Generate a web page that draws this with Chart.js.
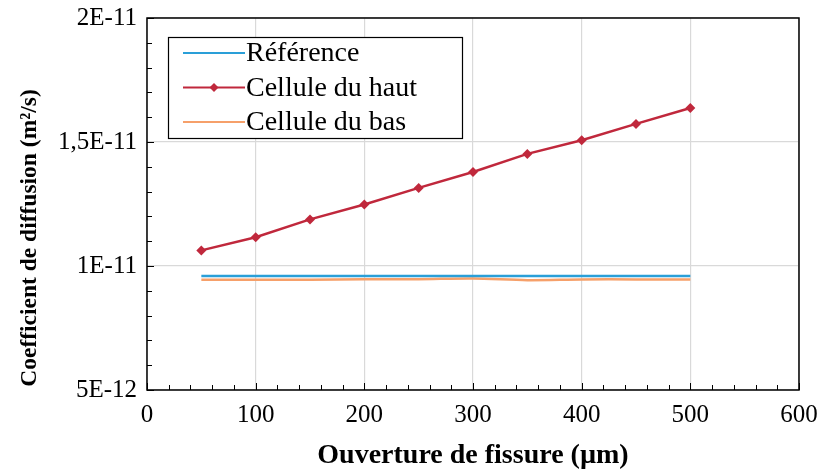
<!DOCTYPE html>
<html>
<head>
<meta charset="utf-8">
<script src="https://cdn.jsdelivr.net/npm/chart.js@4/dist/chart.umd.min.js"></script>
<style>
  html, body { margin: 0; padding: 0; background: #fff; }
  #wrap { width: 818px; height: 470px; }
</style>
</head>
<body>
<div id="wrap"><canvas id="diffChart" width="818" height="470"></canvas></div>
<script>
// ouverture de fissure (µm)
const ouvertures = [50, 100, 150, 200, 250, 300, 350, 400, 450, 500];
const reference = [9.6e-12, 9.6e-12, 9.6e-12, 9.6e-12, 9.6e-12, 9.6e-12, 9.6e-12, 9.6e-12, 9.6e-12, 9.6e-12];
const celluleHaut = [1.063e-11, 1.116e-11, 1.188e-11, 1.248e-11, 1.315e-11, 1.379e-11, 1.452e-11, 1.507e-11, 1.573e-11, 1.637e-11];
const celluleBas = [9.45e-12, 9.45e-12, 9.45e-12, 9.47e-12, 9.47e-12, 9.50e-12, 9.43e-12, 9.46e-12, 9.46e-12, 9.46e-12];

const xTicks = [0, 100, 200, 300, 400, 500, 600];
const yTicks = [5e-12, 1e-11, 1.5e-11, 2e-11];
const yTitle = 'Coefficient de diffusion (m²/s)';

const serif = '"Liberation Serif", "Times New Roman", serif';

function toPoints(vals) {
    return ouvertures.map((x, i) => ({ x: x, y: vals[i] }));
}

// format "1,5E-11" comme Excel
function sciLabel(v) {
    const exp = Math.floor(Math.log10(v) + 1e-9);
    let m = Math.round(v / Math.pow(10, exp) * 100) / 100;
    return String(m).replace('.', ',') + 'E' + exp;
}

// petites graduations + cadre + légende + titre vertical
const decorPlugin = {
    id: 'decor',
    afterDraw(chart) {
        const { ctx, chartArea: a, scales } = chart;
        const xs = scales.x, ys = scales.y;
        ctx.save();
        ctx.strokeStyle = '#000';
        ctx.lineWidth = 1;
        ctx.beginPath();
        for (let v = 0; v <= 600; v += 20) {
            const px = Math.round(xs.getPixelForValue(v)) + 0.5;
            const len = v % 100 === 0 ? 7 : 5;
            ctx.moveTo(px, a.bottom);
            ctx.lineTo(px, a.bottom - len);
        }
        for (let k = 5; k <= 20; k++) {
            const py = Math.round(ys.getPixelForValue(k * 1e-12)) + 0.5;
            const len = k % 5 === 0 ? 7 : 5;
            ctx.moveTo(a.left, py);
            ctx.lineTo(a.left + len, py);
        }
        ctx.stroke();

        // cadre
        ctx.lineWidth = 1.5;
        ctx.strokeRect(a.left, a.top, a.right - a.left, a.bottom - a.top);

        // titre de l'axe y
        ctx.save();
        ctx.translate(30, 238);
        ctx.rotate(-Math.PI / 2);
        ctx.font = 'bold 23.5px ' + serif;
        ctx.fillStyle = '#000';
        ctx.textAlign = 'center';
        ctx.textBaseline = 'middle';
        ctx.fillText(yTitle, 0, 0);
        ctx.restore();

        // légende
        const box = { x: 168, y: 37, w: 294, h: 101 };
        ctx.fillStyle = '#fff';
        ctx.fillRect(box.x, box.y, box.w, box.h);
        ctx.lineWidth = 1.2;
        ctx.strokeRect(box.x + 0.5, box.y + 0.5, box.w, box.h);
        ctx.font = '28px ' + serif;
        ctx.textBaseline = 'middle';
        ctx.textAlign = 'left';
        chart.data.datasets.forEach((ds, i) => {
            const cy = 53 + i * 34.5;
            ctx.strokeStyle = ds.borderColor;
            ctx.lineWidth = 2;
            ctx.beginPath();
            ctx.moveTo(183, cy);
            ctx.lineTo(245, cy);
            ctx.stroke();
            if (ds.pointRadius > 0) {
                ctx.fillStyle = ds.borderColor;
                ctx.beginPath();
                ctx.moveTo(214, cy - 4.5);
                ctx.lineTo(218.5, cy);
                ctx.lineTo(214, cy + 4.5);
                ctx.lineTo(209.5, cy);
                ctx.closePath();
                ctx.fill();
            }
            ctx.fillStyle = '#000';
            ctx.fillText(ds.label, 246, cy + 1);
        });
        ctx.restore();
    }
};

const ctx = document.getElementById('diffChart').getContext('2d');
const diffChart = new Chart(ctx, {
    type: 'line',
    data: {
        datasets: [{
            label: 'Référence',
            data: toPoints(reference),
            borderColor: '#2a9fd8',
            borderWidth: 2.5,
            pointRadius: 0,
            tension: 0
        }, {
            label: 'Cellule du haut',
            data: toPoints(celluleHaut),
            borderColor: '#c0283c',
            backgroundColor: '#c0283c',
            borderWidth: 2.5,
            pointStyle: 'rectRot',
            pointRadius: 5,
            pointBorderWidth: 0,
            tension: 0
        }, {
            label: 'Cellule du bas',
            data: toPoints(celluleBas),
            borderColor: '#f6a06a',
            borderWidth: 2.5,
            pointRadius: 0,
            tension: 0.3
        }]
    },
    options: {
        responsive: false,
        animation: false,
        layout: { padding: { top: 18, right: 19, left: 0, bottom: 0 } },
        plugins: {
            legend: { display: false },
            tooltip: { enabled: false }
        },
        scales: {
            x: {
                type: 'linear',
                min: 0,
                max: 600,
                afterBuildTicks: s => { s.ticks = xTicks.map(v => ({ value: v })); },
                afterFit: s => {
                    s.height = 80;
                    s.paddingLeft = 0;
                    s.paddingRight = 0;
                },
                grid: { color: '#d9d9d9', lineWidth: 1.2, drawTicks: false },
                border: { display: false },
                ticks: {
                    color: '#000',
                    padding: 10,
                    maxRotation: 0,
                    font: { family: serif, size: 25 }
                },
                title: {
                    display: true,
                    text: 'Ouverture de fissure (µm)',
                    color: '#000',
                    padding: { top: 0, bottom: 0 },
                    font: { family: serif, size: 28, weight: 'bold', lineHeight: 1 }
                }
            },
            y: {
                type: 'linear',
                min: 5e-12,
                max: 2e-11,
                afterBuildTicks: s => { s.ticks = yTicks.map(v => ({ value: v })); },
                afterFit: s => {
                    s.width = 147;
                    s.paddingTop = 0;
                    s.paddingBottom = 0;
                },
                grid: { color: '#d9d9d9', lineWidth: 1.2, drawTicks: false },
                border: { display: false },
                ticks: {
                    color: '#000',
                    padding: 10,
                    font: { family: serif, size: 25 },
                    callback: v => sciLabel(v)
                }
            }
        }
    },
    plugins: [decorPlugin]
});
</script>
</body>
</html>
